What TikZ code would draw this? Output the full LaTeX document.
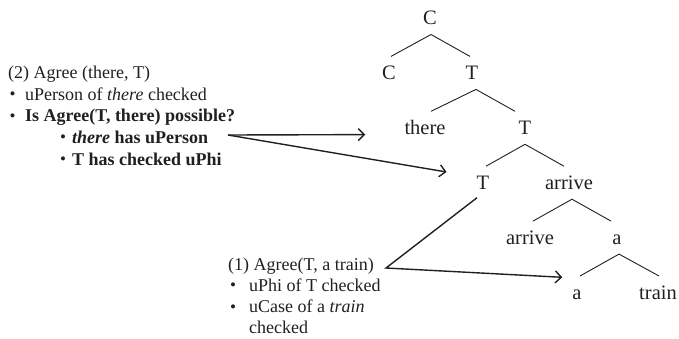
\documentclass[tikz,border=0pt]{standalone}
\usepackage{fontspec}
\setmainfont{Liberation Serif}
\usetikzlibrary{arrows.meta}
\definecolor{ink}{RGB}{35,31,32}
\newcommand{\dotmark}{\raisebox{0.5pt}{\fontsize{17}{17}\selectfont\textbullet}}
\tikzset{
  lbl/.style={font=\fontsize{20.5}{24}\selectfont, text height=13.6pt, text depth=0pt,
              inner xsep=0pt, inner ysep=9.5pt, text=ink, anchor=base},
  note/.style={font=\fontsize{18}{21}\selectfont, anchor=base west, inner sep=0pt, text=ink},
  branch/.style={draw=ink, line width=0.9pt},
  pointer/.style={draw=ink, line width=1.4pt, line join=miter,
                  -{Straight Barb[length=6pt,width=12pt,line width=1.4pt]}},
}
\begin{document}
\begin{tikzpicture}[x=1pt,y=-1pt]
\useasboundingbox (0,0) rectangle (679,338);

% syntax tree
\node[lbl] (cp)   at (430,24.8)  {C};
\node[lbl] (c)    at (389,79.7)  {C};
\node[lbl] (tp)   at (472,79.7)  {T};
\node[lbl] (thr)  at (425,134.6) {there};
\node[lbl] (tb)   at (525,134.6) {T};
\node[lbl] (t)    at (483,189.5) {T};
\node[lbl] (arp)  at (569,189.5) {arrive};
\node[lbl] (ar)   at (530,244.4) {arrive};
\node[lbl] (ap)   at (617,244.4) {a};
\node[lbl] (a)    at (577,299.3) {a};
\node[lbl] (trn)  at (658,299.3) {train};

\draw[branch] ([xshift=2pt]c.north)  -- ([xshift=1pt]cp.south) -- ([xshift=-2pt]tp.north);
\draw[branch] ([xshift=6pt]thr.north) -- ([xshift=4pt]tp.south) -- ([xshift=-10pt]tb.north);
\draw[branch] ([xshift=3pt]t.north)  -- (tb.south) -- ([xshift=-5pt]arp.north);
\draw[branch] ([xshift=3pt]ar.north) -- ([xshift=3pt]arp.south) -- ([xshift=-6pt]ap.north);
\draw[branch] ([xshift=3pt]a.north)  -- ([xshift=2pt]ap.south) -- ([xshift=1pt]trn.north);

% annotation (2)
\node[note] (n2)  at (8,78.3)   {(2) Agree (there, T)};
\node[note] (n2a) at (9.5,100)  {\makebox[15.5pt][l]{\dotmark}uPerson of \textit{there} checked};
\node[note] (n2b) at (9.5,121.7){\makebox[15.5pt][l]{\dotmark}\textbf{Is Agree(T, there) possible?}};
\node[note] (n2c) at (60,143.3) {\makebox[12pt][l]{\dotmark}\textbf{\textit{there} has uPerson}};
\node[note] (n2d) at (60,165)   {\makebox[12pt][l]{\dotmark}\textbf{T has checked uPhi}};

% annotation (1)
\node[note] (n1)  at (228,270)   {(1) Agree(T, a train)};
\node[note] (n1a) at (230,291.3) {\makebox[19pt][l]{\dotmark}uPhi of T checked};
\node[note] (n1b) at (230,312.6) {\makebox[19pt][l]{\dotmark}uCase of a \textit{train}};
\node[note] (n1c) at (249,333.9) {checked};

% pointers
\coordinate (o2) at (228,135);
\coordinate (v1) at (386,268);
\draw[pointer] (o2) -- ([xshift=-39pt]thr.base west);
\draw[pointer] (o2) -- ([xshift=-30pt,yshift=17.5pt]t.base west);
\draw[pointer] ([xshift=-6pt,yshift=1.5pt]t.south) -- (v1) -- ([xshift=-10pt,yshift=22pt]a.base west);
\end{tikzpicture}
\end{document}
